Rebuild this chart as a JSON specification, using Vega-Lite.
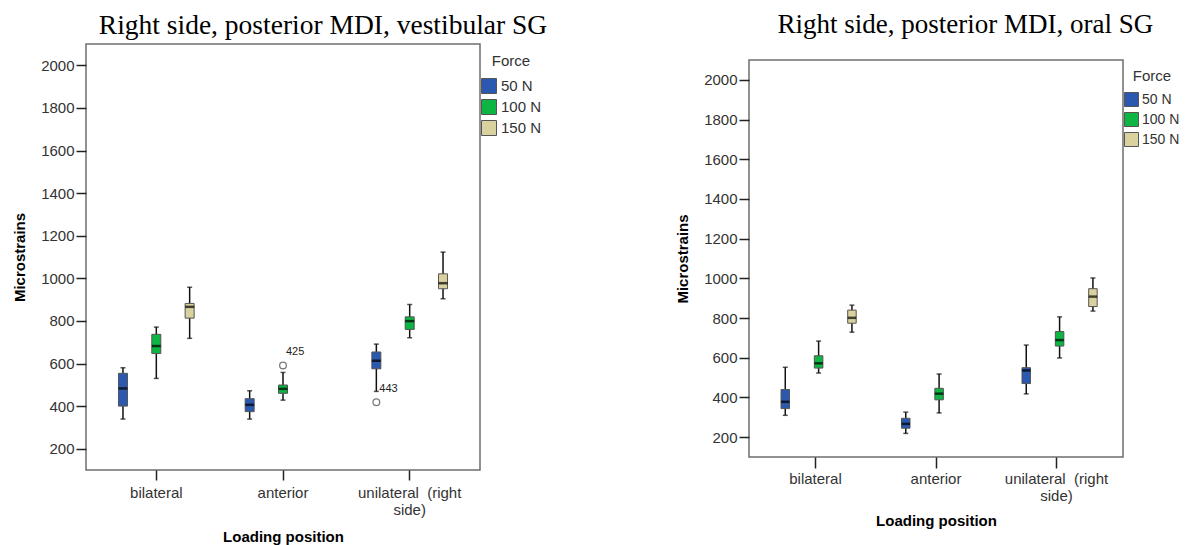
{
  "$schema": "https://vega.github.io/schema/vega-lite/v6.json",
  "background": "white",
  "padding": {"left": 11, "top": 10, "right": 0, "bottom": 0},
  "datasets": {
    "boxL": [
      {"position": "bilateral", "force": "50 N", "lo": 339, "q1": 400, "med": 483, "q3": 554, "hi": 580},
      {"position": "bilateral", "force": "100 N", "lo": 530, "q1": 647, "med": 682, "q3": 737, "hi": 771},
      {"position": "bilateral", "force": "150 N", "lo": 718, "q1": 813, "med": 866, "q3": 882, "hi": 958},
      {"position": "anterior", "force": "50 N", "lo": 339, "q1": 374, "med": 406, "q3": 435, "hi": 472},
      {"position": "anterior", "force": "100 N", "lo": 428, "q1": 460, "med": 481, "q3": 499, "hi": 558},
      {"position": "unilateral (right side)", "force": "50 N", "lo": 469, "q1": 575, "med": 613, "q3": 654, "hi": 691},
      {"position": "unilateral (right side)", "force": "100 N", "lo": 721, "q1": 760, "med": 799, "q3": 819, "hi": 877},
      {"position": "unilateral (right side)", "force": "150 N", "lo": 904, "q1": 951, "med": 977, "q3": 1021, "hi": 1123}
    ],
    "outL": [
      {"position": "anterior", "force": "100 N", "value": 591, "id": "425"},
      {"position": "unilateral (right side)", "force": "50 N", "value": 418, "id": "443"}
    ],
    "boxR": [
      {"position": "bilateral", "force": "50 N", "lo": 310, "q1": 344, "med": 378, "q3": 440, "hi": 552},
      {"position": "bilateral", "force": "100 N", "lo": 523, "q1": 548, "med": 572, "q3": 610, "hi": 684},
      {"position": "bilateral", "force": "150 N", "lo": 729, "q1": 774, "med": 801, "q3": 840, "hi": 865},
      {"position": "anterior", "force": "50 N", "lo": 219, "q1": 245, "med": 267, "q3": 295, "hi": 326},
      {"position": "anterior", "force": "100 N", "lo": 322, "q1": 388, "med": 419, "q3": 446, "hi": 518},
      {"position": "unilateral (right side)", "force": "50 N", "lo": 418, "q1": 470, "med": 536, "q3": 550, "hi": 664},
      {"position": "unilateral (right side)", "force": "100 N", "lo": 599, "q1": 659, "med": 689, "q3": 732, "hi": 806},
      {"position": "unilateral (right side)", "force": "150 N", "lo": 835, "q1": 858, "med": 908, "q3": 948, "hi": 1002}
    ],
    "spacer": [{}]
  },
  "config": {
    "font": "Liberation Sans",
    "view": {"stroke": "#6e6e6e", "strokeWidth": 1.5},
    "axis": {
      "labelFont": "Liberation Sans", "labelFontSize": 15, "labelColor": "#333333",
      "titleFont": "Liberation Sans", "titleFontSize": 15, "titleFontWeight": "bold", "titleColor": "#000000",
      "tickColor": "#222222", "tickWidth": 1.5, "tickSize": 10, "domain": false, "grid": false
    },
    "legend": {
      "titleFont": "Liberation Sans", "titleFontWeight": "normal", "titleFontSize": 15, "titleColor": "#333333",
      "labelFont": "Liberation Sans", "labelColor": "#333333",
      "symbolType": "square", "symbolStrokeColor": "#555555", "symbolStrokeWidth": 1, "symbolOpacity": 1
    }
  },
  "resolve": {"legend": {"color": "independent"}},
  "spacing": 121,
  "hconcat": [
    {
      "width": 394, "height": 426,
      "title": {"text": "Right side, posterior MDI, vestibular SG", "font": "Liberation Serif", "fontSize": 27.5, "fontWeight": "normal", "color": "#000000", "anchor": "middle", "dx": 40, "offset": 5},
      "encoding": {
        "x": {"field": "position", "type": "nominal", "title": "Loading position",
          "sort": ["bilateral", "anterior", "unilateral (right side)"],
          "scale": {"domain": ["bilateral", "anterior", "unilateral (right side)"], "paddingInner": 0, "paddingOuter": 0.055},
          "axis": {"labelAngle": 0, "labelPadding": 5, "titlePadding": 12, "labelLineHeight": 17,
            "labelExpr": "datum.value == 'unilateral (right side)' ? ['unilateral\u00a0 (right', 'side)'] : datum.label"}},
        "xOffset": {"field": "force", "type": "nominal",
          "scale": {"domain": ["50 N", "100 N", "150 N"], "paddingInner": 0, "paddingOuter": 0.4}}
      },
      "layer": [
        {"data": {"name": "boxL"}, "mark": {"type": "rule", "color": "#111111", "strokeWidth": 1.5},
          "encoding": {
            "y": {"field": "lo", "type": "quantitative", "title": "Microstrains",
              "scale": {"domain": [100, 2100], "nice": false, "zero": false},
              "axis": {"values": [200, 400, 600, 800, 1000, 1200, 1400, 1600, 1800, 2000], "format": "d", "labelPadding": 2, "titlePadding": 13}},
            "y2": {"field": "hi"}}},
        {"data": {"name": "boxL"}, "mark": {"type": "tick", "color": "#111111", "size": 5, "thickness": 1.5},
          "encoding": {"y": {"field": "lo", "type": "quantitative", "title": "Microstrains"}}},
        {"data": {"name": "boxL"}, "mark": {"type": "tick", "color": "#111111", "size": 5, "thickness": 1.5},
          "encoding": {"y": {"field": "hi", "type": "quantitative", "title": "Microstrains"}}},
        {"data": {"name": "boxL"}, "mark": {"type": "bar", "width": 9, "stroke": "#555555", "strokeWidth": 1},
          "encoding": {
            "y": {"field": "q1", "type": "quantitative", "title": "Microstrains"},
            "y2": {"field": "q3"},
            "color": {"field": "force", "type": "nominal",
              "scale": {"domain": ["50 N", "100 N", "150 N"], "range": ["#2C59B0", "#0DB543", "#D9D29E"]},
              "legend": {"title": "Force", "orient": "right", "offset": -9, "padding": 10, "titleAnchor": "middle",
                "titlePadding": 9, "symbolSize": 225, "labelFontSize": 15, "rowPadding": 1, "labelOffset": 4}}}},
        {"data": {"name": "boxL"}, "mark": {"type": "tick", "color": "#000000", "size": 9, "thickness": 2.5},
          "encoding": {"y": {"field": "med", "type": "quantitative", "title": "Microstrains"}}},
        {"data": {"name": "outL"}, "mark": {"type": "point", "shape": "circle", "filled": false, "size": 45, "stroke": "#444444", "strokeWidth": 1.3},
          "encoding": {"y": {"field": "value", "type": "quantitative", "title": "Microstrains"}}},
        {"data": {"name": "outL"}, "mark": {"type": "text", "align": "left", "dx": 3, "dy": -13, "fontSize": 11, "color": "#222222"},
          "encoding": {"y": {"field": "value", "type": "quantitative", "title": "Microstrains"}, "text": {"field": "id"}}}
      ]
    },
    {
      "title": {"text": "Right side, posterior MDI, oral SG", "font": "Liberation Serif", "fontSize": 27, "fontWeight": "normal", "color": "#000000", "anchor": "middle", "dx": 33, "offset": 5},
      "spacing": 0,
      "resolve": {"legend": {"color": "independent"}},
      "vconcat": [
        {
          "width": 374, "height": 15,
          "data": {"name": "spacer"},
          "view": {"stroke": null},
          "mark": {"type": "rule", "opacity": 0},
          "encoding": {}
        },
        {
          "width": 374, "height": 397,
          "encoding": {
            "x": {"field": "position", "type": "nominal", "title": "Loading position",
              "sort": ["bilateral", "anterior", "unilateral (right side)"],
              "scale": {"domain": ["bilateral", "anterior", "unilateral (right side)"], "paddingInner": 0, "paddingOuter": 0.052},
              "axis": {"labelAngle": 0, "labelPadding": 3, "titlePadding": 10, "labelLineHeight": 17, "tickSize": 11,
                "labelExpr": "datum.value == 'unilateral (right side)' ? ['unilateral\u00a0 (right', 'side)'] : datum.label"}},
            "xOffset": {"field": "force", "type": "nominal",
              "scale": {"domain": ["50 N", "100 N", "150 N"], "paddingInner": 0, "paddingOuter": 0.4}}
          },
          "layer": [
            {"data": {"name": "boxR"}, "mark": {"type": "rule", "color": "#111111", "strokeWidth": 1.5},
              "encoding": {
                "y": {"field": "lo", "type": "quantitative", "title": "Microstrains",
                  "scale": {"domain": [100, 2100], "nice": false, "zero": false},
                  "axis": {"values": [200, 400, 600, 800, 1000, 1200, 1400, 1600, 1800, 2000], "format": "d", "labelPadding": 2, "titlePadding": 13}},
                "y2": {"field": "hi"}}},
            {"data": {"name": "boxR"}, "mark": {"type": "tick", "color": "#111111", "size": 5, "thickness": 1.5},
              "encoding": {"y": {"field": "lo", "type": "quantitative", "title": "Microstrains"}}},
            {"data": {"name": "boxR"}, "mark": {"type": "tick", "color": "#111111", "size": 5, "thickness": 1.5},
              "encoding": {"y": {"field": "hi", "type": "quantitative", "title": "Microstrains"}}},
            {"data": {"name": "boxR"}, "mark": {"type": "bar", "width": 8.5, "stroke": "#555555", "strokeWidth": 1},
              "encoding": {
                "y": {"field": "q1", "type": "quantitative", "title": "Microstrains"},
                "y2": {"field": "q3"},
                "color": {"field": "force", "type": "nominal",
                  "scale": {"domain": ["50 N", "100 N", "150 N"], "range": ["#2C59B0", "#0DB543", "#D9D29E"]},
                  "legend": {"title": "Force", "orient": "right", "offset": -8, "padding": 9, "titleAnchor": "middle",
                    "titlePadding": 8, "symbolSize": 196, "labelFontSize": 14, "rowPadding": 1, "labelOffset": 3}}}},
            {"data": {"name": "boxR"}, "mark": {"type": "tick", "color": "#000000", "size": 8.5, "thickness": 2.5},
              "encoding": {"y": {"field": "med", "type": "quantitative", "title": "Microstrains"}}}
          ]
        }
      ]
    }
  ]
}
